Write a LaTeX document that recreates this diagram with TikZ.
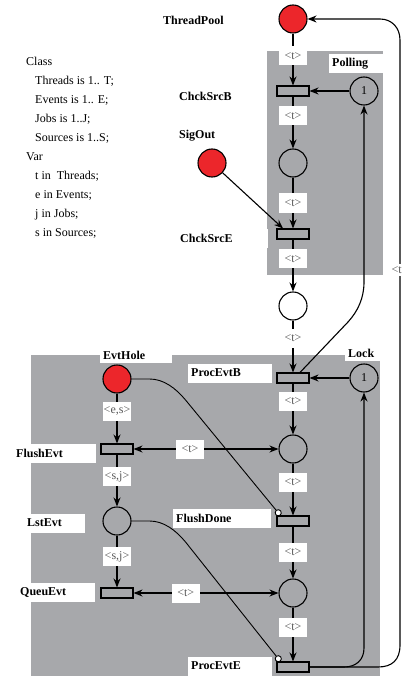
\documentclass[tikz,border=0pt]{standalone}
\usepackage{fontspec}
\setmainfont{Liberation Serif}
\usepackage{tikz}
\usetikzlibrary{arrows.meta, positioning}
\usepackage{xcolor}
\definecolor{panelgray}{RGB}{167,168,171}
\definecolor{tokred}{RGB}{236,38,43}

\begin{document}
\begin{tikzpicture}[
  x=1pt, y=-1pt,
  every node/.style={font=\fontsize{12}{14}\selectfont},
  place/.style={draw, circle, line width=1.1pt, minimum size=28pt, inner sep=0pt},
  token/.style={place, fill=tokred},
  trans/.style={draw, rectangle, line width=1.1pt, minimum width=32pt, minimum height=10pt, inner sep=0pt},
  pname/.style={fill=white, anchor=west, align=left, inner xsep=3pt, inner ysep=0pt,
                minimum height=19pt, font=\fontsize{12}{14}\selectfont\bfseries},
  albl/.style={fill=white, minimum width=28pt, minimum height=19pt, inner sep=1pt,
               text=black!65, font=\fontsize{12}{14}\selectfont},
  arc/.style={-{Stealth[length=9pt, width=7pt]}, line width=1.1pt},
  biarc/.style={{Stealth[length=9pt, width=7pt]}-{Stealth[length=9pt, width=7pt]}, line width=1.1pt},
  inh/.style={-{Circle[fill=white, length=7pt]}, line width=0.9pt}
]
  \useasboundingbox (0,0) rectangle (401,676);

  % ---- gray panels ----
  \fill[panelgray] (267,51) rectangle (383,275);
  \fill[panelgray] (31,355) rectangle (380,676);

  % ---- declarations ----
  \node[anchor=north west, align=left, inner sep=0pt, font=\fontsize{12}{19}\selectfont] (decl) at (26,57)
    {Class\\\hspace{9pt}Threads is 1.. T;\\\hspace{9pt}Events is 1.. E;\\\hspace{9pt}Jobs is 1..J;\\
     \hspace{9pt}Sources is 1..S;\\Var\\\hspace{9pt}t in\ \ Threads;\\\hspace{9pt}e in Events;\\
     \hspace{9pt}j in Jobs;\\\hspace{9pt}s in Sources;};

  % ---- names ----
  \node[pname]                    (tpoolL) at (160,20)  {ThreadPool};
  \node[pname, text width=48pt]   (pollL)  at (329,64)  {Polling};
  \node[pname, text width=85pt]   (csbL)   at (176,96)  {ChckSrcB};
  \node[pname]                    (sigL)   at (176,136) {SigOut};
  \node[pname, text width=85pt]   (cseL)   at (177,238) {ChckSrcE};
  \node[pname, text width=66pt, minimum height=15pt] (holeL) at (100,355) {EvtHole};
  \node[pname, text width=29pt, minimum height=16pt] (lockL) at (345,353) {Lock};
  \node[pname, text width=78pt]   (pebL)   at (188,373) {ProcEvtB};
  \node[pname, text width=77pt]   (feL)    at (13,453)  {FlushEvt};
  \node[pname, text width=92pt]   (fdL)    at (173,518) {FlushDone};
  \node[pname, text width=55pt]   (lstL)   at (24,523)  {LstEvt};
  \node[pname, text width=72pt]   (qeL)    at (17,592)  {QueuEvt};
  \node[pname, text width=78pt]   (peeL)   at (188,666) {ProcEvtE};

  % ---- places ----
  \node[token] (tpool) at (293,19)  {};
  \node[place] (poll)  at (364,91)  {1};
  \node[place] (pA)    at (293,163) {};
  \node[token] (sig)   at (212,163) {};
  \node[place] (pB)    at (293,306) {};
  \node[token] (hole)  at (117,379) {};
  \node[place] (lock)  at (364,378) {1};
  \node[place] (pC)    at (293,449) {};
  \node[place] (lst)   at (117,521) {};
  \node[place] (pD)    at (293,593) {};

  % ---- transitions ----
  \node[trans] (csb) at (293,91)  {};
  \node[trans] (cse) at (293,234) {};
  \node[trans] (peb) at (293,378) {};
  \node[trans] (fe)  at (117,449) {};
  \node[trans] (fd)  at (293,521) {};
  \node[trans] (qe)  at (117,593) {};
  \node[trans] (pee) at (293,667) {};

  % ---- thread lane ----
  \draw[arc] (tpool) -- (csb) node[albl, pos=0.43] {<t>};
  \draw[arc] (poll) -- (csb);
  \draw[arc] (csb) -- (pA) node[albl, pos=0.37] {<t>};
  \draw[arc] (pA) -- (cse) node[albl, pos=0.5] {<t>};
  \draw[arc] (sig) -- ([xshift=-10pt]cse.north);
  \draw[arc] (cse) -- (pB) node[albl, pos=0.37] {<t>};
  \draw[arc] (pB) -- (peb) node[albl, pos=0.34] {<t>};
  \draw[arc] (lock) -- (peb);
  \draw[arc] (peb) -- (pC) node[albl, pos=0.35] {<t>};
  \draw[arc] (pC) -- (fd) node[albl, pos=0.36] {<t>};
  \draw[arc] (fd) -- (pD) node[albl, pos=0.5] {<t>};
  \draw[arc] (pD) -- (pee) node[albl, pos=0.37] {<t>};

  % ---- event lane ----
  \draw[arc] (hole) -- (fe) node[albl, pos=0.35] {<e,s>};
  \draw[arc] (fe) -- (lst) node[albl, pos=0.42] {<s,j>};
  \draw[arc] (lst) -- (qe) node[albl, pos=0.4] {<s,j>};
  \draw[biarc] (fe) -- (pC) node[albl, pos=0.39] {<t>};
  \draw[biarc] (qe) -- (pD) node[albl, pos=0.36] {<t>};

  % ---- inhibitor arcs ----
  \draw[inh] (hole.east) -- ++(18,0) .. controls +(14,0) and +(-10,-12) .. ++(36,21)
    -- ([xshift=4pt]fd.north west);
  \draw[inh] (lst.east) -- ++(18,0) .. controls +(14,0) and +(-10,-12) .. ++(36,21)
    -- ([xshift=4pt]pee.north west);

  % ---- return arcs ----
  \coordinate (pollBend) at (364,282);
  \coordinate (lockBend) at (364,648);
  \draw[arc] ([xshift=7pt]peb.north) -- (348,322) .. controls (358,311) and (364,298) .. (pollBend) -- (poll);
  \draw[arc] (pee.east) -- (344,667) .. controls (356,667) and (364,660) .. (lockBend) -- (lock);
  \draw[arc] (pee.east) -- (378,667) .. controls (392,667) and (400,660) .. (400,645)
    -- (400,40) node[albl, pos=0.62, minimum height=12pt] {<t>}
    .. controls (400,28) and (392,19) .. (380,19) -- (tpool);
\end{tikzpicture}
\end{document}
